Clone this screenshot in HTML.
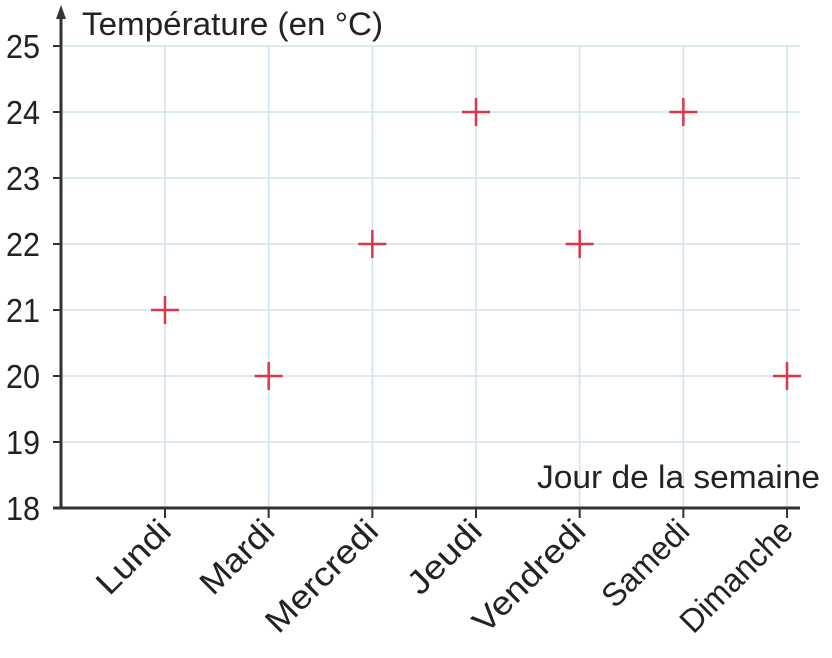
<!DOCTYPE html>
<html><head><meta charset="utf-8"><style>
html,body{margin:0;padding:0;background:#fff;}
svg text{font-family:"Liberation Sans",sans-serif;fill:#222;}
</style></head><body>
<svg id="chart" width="832" height="653" viewBox="0 0 832 653" xmlns="http://www.w3.org/2000/svg">
<g id="grid"></g>
<g id="axes"></g>
<g id="marks"></g>
</svg>
<script>
const categories = ["Lundi","Mardi","Mercredi","Jeudi","Vendredi","Samedi","Dimanche"];
const temperatures = [21,20,22,24,22,24,20];
const yTicks = [18,19,20,21,22,23,24,25];

const NS="http://www.w3.org/2000/svg";
const x0=61, yBottom=508, yTop=46;
function yPos(v){return yBottom-(v-18)*(yBottom-yTop)/7;}
function xPos(i){return 165+i*103.67;}
function mk(tag,attrs,parent){const e=document.createElementNS(NS,tag);for(const k in attrs)e.setAttribute(k,attrs[k]);parent.appendChild(e);return e;}
const grid=document.getElementById('grid'),axes=document.getElementById('axes'),marks=document.getElementById('marks');

yTicks.forEach(v=>{
  if(v>18){const l=mk('line',{x1:x0,x2:800,y1:yPos(v),y2:yPos(v),stroke:'#cfe3ec','stroke-width':1.5},grid);
  
  }
  const t=mk('line',{x1:53,x2:x0,y1:yPos(v),y2:yPos(v),stroke:'#333','stroke-width':2},axes);
  
  
  const tx=mk('text',{x:40,y:yPos(v)+12,'text-anchor':'end','font-size':33,textLength:34,lengthAdjust:'spacingAndGlyphs'},axes);
  tx.textContent=v;
  
  
});
categories.forEach((c,i)=>{
  const x=xPos(i);
  const g=mk('line',{x1:x,x2:x,y1:yTop,y2:yBottom,stroke:'#cfe3ec','stroke-width':1.5},grid);
  
  
  const t=mk('line',{x1:x,x2:x,y1:yBottom,y2:518,stroke:'#333','stroke-width':2},axes);
  
  
  const tx=mk('text',{x:0,y:0,'text-anchor':'end','font-size':33,transform:`translate(${x+8},${533}) rotate(-45)`,textLength:c.length*18,lengthAdjust:'spacingAndGlyphs'},axes);
  tx.textContent=c;
  
  
});
let a=mk('line',{x1:x0,x2:x0,y1:16,y2:509,stroke:'#333','stroke-width':3},axes);


a=mk('polygon',{points:`${x0},5 ${x0-5},19 ${x0+5},19`,fill:'#333'},axes);


a=mk('line',{x1:53,x2:800,y1:yBottom,y2:yBottom,stroke:'#333','stroke-width':3},axes);


let tt=mk('text',{x:82,y:35,'font-size':32,textLength:301,lengthAdjust:'spacingAndGlyphs'},axes);
tt.textContent='Température (en °C)';


tt=mk('text',{x:537,y:488,'font-size':32,textLength:283,lengthAdjust:'spacingAndGlyphs'},axes);
tt.textContent='Jour de la semaine';



temperatures.forEach((v,i)=>{
  const x=xPos(i),y=yPos(v);
  const g=mk('g',{},marks);
  
  
  mk('line',{x1:x-14,x2:x+14,y1:y,y2:y,stroke:'#e0344a','stroke-width':2.5},g);
  mk('line',{x1:x,x2:x,y1:y-14,y2:y+14,stroke:'#e0344a','stroke-width':2.5},g);
});
</script>
</body></html>
